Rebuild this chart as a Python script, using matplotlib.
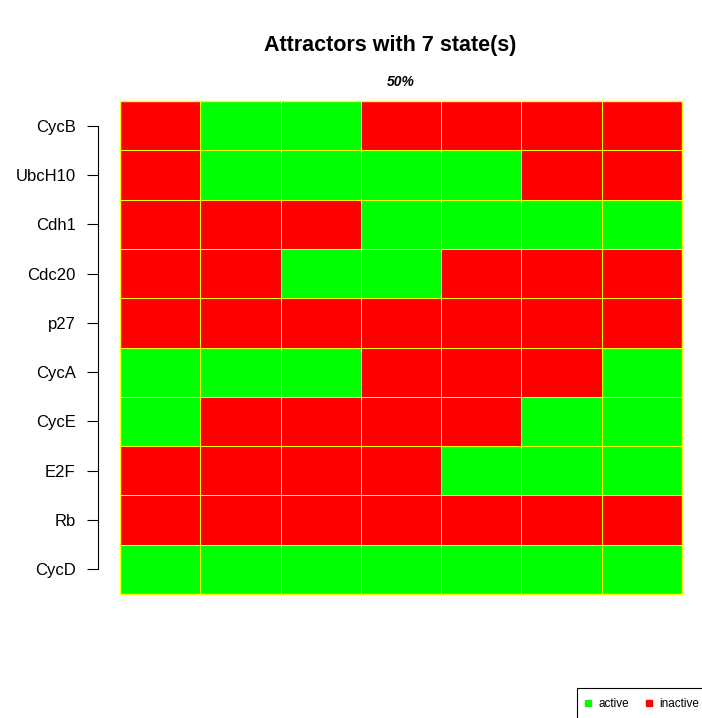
import matplotlib
matplotlib.use("Agg")
import matplotlib.pyplot as plt
from matplotlib.colors import ListedColormap
from matplotlib.lines import Line2D
import numpy as np

plt.rcParams['font.family'] = ['Liberation Sans', 'DejaVu Sans']

genes = ['CycB', 'UbcH10', 'Cdh1', 'Cdc20', 'p27', 'CycA', 'CycE', 'E2F', 'Rb', 'CycD']
# 1 = active, 0 = inactive; rows top to bottom, columns = states
CycB   = [0, 1, 1, 0, 0, 0, 0]
UbcH10 = [0, 1, 1, 1, 1, 0, 0]
Cdh1   = [0, 0, 0, 1, 1, 1, 1]
Cdc20  = [0, 0, 1, 1, 0, 0, 0]
p27    = [0, 0, 0, 0, 0, 0, 0]
CycA   = [1, 1, 1, 0, 0, 0, 1]
CycE   = [1, 0, 0, 0, 0, 1, 1]
E2F    = [0, 0, 0, 0, 1, 1, 1]
Rb     = [0, 0, 0, 0, 0, 0, 0]
CycD   = [1, 1, 1, 1, 1, 1, 1]
rows = [CycB, UbcH10, Cdh1, Cdc20, p27, CycA, CycE, E2F, Rb, CycD]
basin = '50%'

mat = np.array(rows[::-1])  # bottom row first
n_rows, n_cols = mat.shape

fig = plt.figure(figsize=(7.02, 7.18), dpi=100)
ax = fig.add_axes([120/702, 1-594/718, 562/702, 493/718])
cmap = ListedColormap(['#FF0000', '#00FF00'])
ax.pcolormesh(np.arange(n_cols+1), np.arange(n_rows+1), mat,
              cmap=cmap, vmin=0, vmax=1, edgecolors='#FFFF00', linewidth=0.7)
ax.set_xlim(0, n_cols)
ax.set_ylim(0, n_rows)

for s in ['top', 'right', 'bottom']:
    ax.spines[s].set_visible(False)
ax.spines['left'].set_position(('outward', 16))
ax.spines['left'].set_bounds(0.5, n_rows - 0.5)
ax.spines['left'].set_linewidth(0.8)
ax.set_xticks([])
ax.set_yticks(np.arange(n_rows) + 0.5)
ax.set_yticklabels(genes[::-1], fontsize=12)
ax.tick_params(axis='y', length=8, width=0.8, pad=8)

# yellow frame around heatmap
ax.add_patch(plt.Rectangle((0, 0), n_cols, n_rows, fill=False,
                           edgecolor='#FFFF00', linewidth=1.0, clip_on=False))

fig.text(390/702, 1-46/718, 'Attractors with 7 state(s)', ha='center', va='center',
         fontsize=15.5, fontweight='bold')
ax.text(n_cols/2, n_rows + 0.38, basin, ha='center', va='center',
        fontsize=10, fontstyle='italic', fontweight='bold')

# legend box in the bottom right corner, cut by the figure edge
fig.patches.append(plt.Rectangle((577/702, -0.02), 0.3, 0.02 + 30/718, fill=False,
                                 edgecolor='black', linewidth=0.8,
                                 transform=fig.transFigure, figure=fig))
handles = [Line2D([], [], marker='s', linestyle='', color='#00FF00', markersize=5),
           Line2D([], [], marker='s', linestyle='', color='#FF0000', markersize=5)]
fig.legend(handles, ['active', 'inactive'], loc='center left',
           bbox_to_anchor=(583/702, 1-704/718), ncol=2, fontsize=8.5,
           frameon=False, handlelength=0.8, handletextpad=0.5,
           columnspacing=1.3, borderpad=0, borderaxespad=0)

fig.savefig('out.png', dpi=100)
